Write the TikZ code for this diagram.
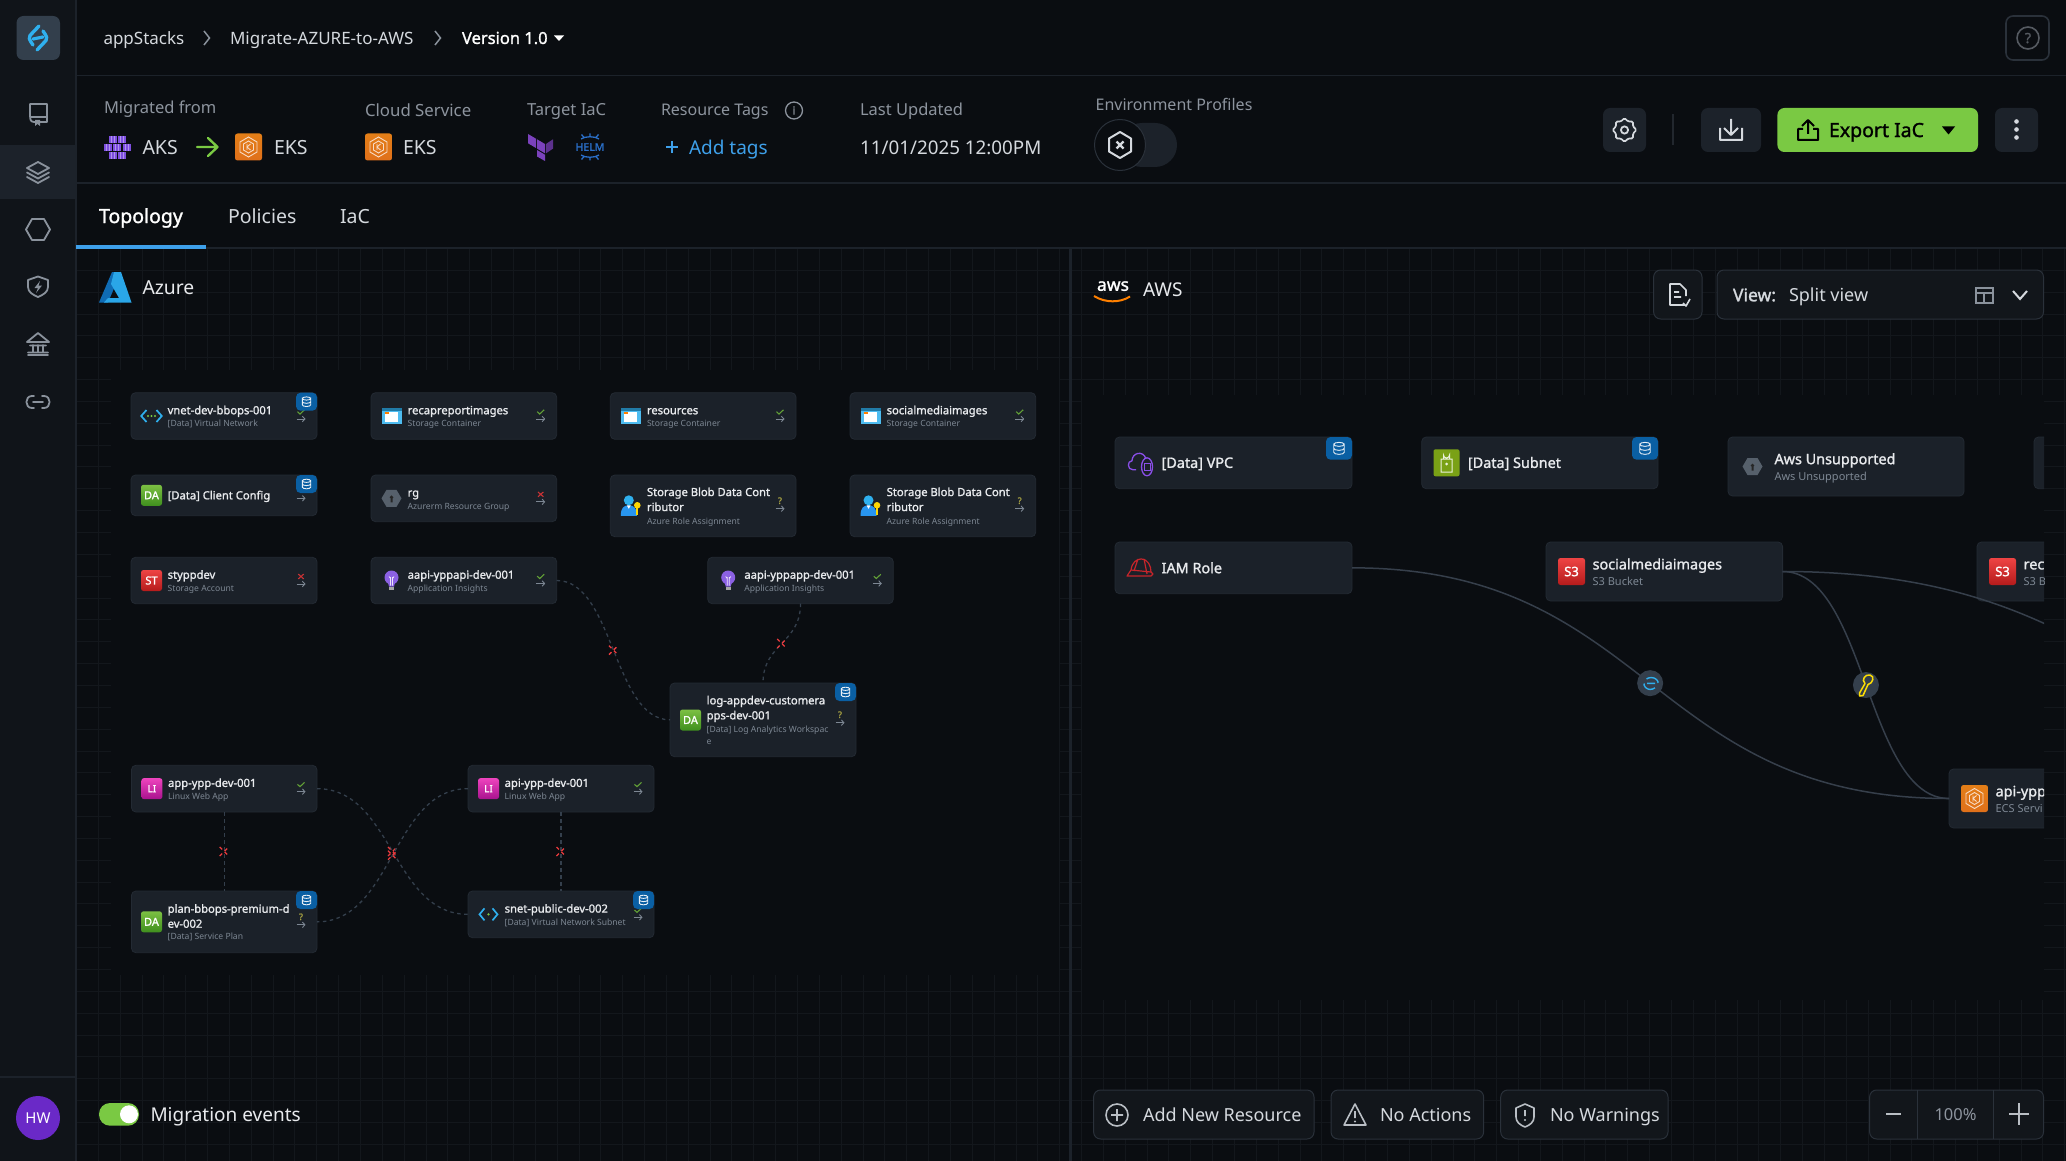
\documentclass[tikz,border=0pt]{standalone}
\usepackage{fontspec}
\setmainfont{Noto Sans}
\newfontfamily\sbf[FakeBold=1.4]{Noto Sans}
\usetikzlibrary{arrows.meta,shapes.misc,shapes.geometric}
\definecolor{bg}{HTML}{0A0D11}
\definecolor{gridc}{HTML}{13171C}
\definecolor{side}{HTML}{101419}
\definecolor{band}{HTML}{1C222A}
\definecolor{rule}{HTML}{1C222A}
\definecolor{cardc}{HTML}{1B2129}
\definecolor{cardb}{HTML}{232A33}
\definecolor{btn}{HTML}{12161B}
\definecolor{btnb}{HTML}{2A313A}
\definecolor{titlec}{HTML}{E8EAED}
\definecolor{subc}{HTML}{7D8793}
\definecolor{labelc}{HTML}{8D949E}
\definecolor{valc}{HTML}{D5D9DE}
\definecolor{iconc}{HTML}{8A929C}
\definecolor{greenc}{HTML}{7AC943}
\definecolor{bluec}{HTML}{3EA0EA}
\definecolor{badge}{HTML}{0A5FA3}
\definecolor{edgec}{HTML}{343F4C}
\definecolor{solidc}{HTML}{363F4B}
\definecolor{redx}{HTML}{EC3B3E}
\definecolor{cyanc}{HTML}{2FB0EE}
\definecolor{orangec}{HTML}{E0701A}
\definecolor{purplec}{HTML}{7B42BC}
\definecolor{aks}{HTML}{7E4FE0}
\definecolor{LogoBg}{HTML}{333F4C}
\definecolor{AvatarC}{HTML}{6A29C7}
\definecolor{HelmC}{HTML}{2A6FC9}
\definecolor{AzureA}{HTML}{0F6CB5}
\definecolor{AzureB}{HTML}{2AA6E8}
\definecolor{VpcC}{HTML}{8A4FE8}
\definecolor{SubC}{HTML}{7AA116}
\definecolor{IamC}{HTML}{C7252B}
\definecolor{HexC}{HTML}{56606B}
\tikzset{
  txt/.style={inner sep=0pt,outer sep=0pt},
  cardbox/.style={draw=cardb,fill=cardc,rounded corners=4.5pt,line width=.8pt,inner sep=0pt,outer sep=0pt},
  btnbox/.style={draw=btnb,fill=btn,rounded corners=7pt,line width=1pt},
  dashedge/.style={draw=edgec,line width=1.3pt,dash pattern=on 3.5pt off 3.5pt},
  solidedge/.style={draw=solidc,line width=1.5pt},
  xmark/.style={cross out,draw=redx,line width=1.3pt,minimum size=9pt,inner sep=0pt,outer sep=0pt},
  ic/.style={draw=iconc,line width=1.8pt,line join=round,line cap=round},
  stt/.style={line width=1.1pt},
  grarrow/.style={draw=subc,line width=.9pt,-{Straight Barb[length=2.5pt,width=5.5pt]}},
  edgecirc/.style={circle,fill=edgec,minimum size=26pt,inner sep=0pt,outer sep=0pt},
}
% text helpers
\newcommand\lbl[7]{\node[txt,text=#5,font=\fontsize{#4}{#4}\selectfont#6,anchor=base west] (#1) at ({#2},{#3+0.36*#4}) {#7};}
\newcommand\lblc[7]{\node[txt,text=#5,font=\fontsize{#4}{#4}\selectfont#6,anchor=base] (#1) at ({#2},{#3+0.36*#4}) {#7};}
\newcommand\card[5]{\pgfmathsetmacro\mycw{#4-#2}\pgfmathsetmacro\mych{#5-#3}\pgfmathsetmacro\mycx{(#2+#4)/2}\pgfmathsetmacro\mycy{(#3+#5)/2}\node[cardbox,minimum width=\mycw pt,minimum height=\mych pt] (#1) at (\mycx,\mycy) {};}
% status marks
\newcommand\myarr[2]{\draw[grarrow] ({#1-4.5},{#2}) -- ({#1+4.5},{#2});}
\newcommand\stok[3]{\draw[draw=greenc!80!black,stt] ({#2-3.5},{#3-.3}) -- ({#2-1},{#3+2}) -- ({#2+3.5},{#3-2.2});\myarr{#2}{#3+7}}
\newcommand\stno[3]{\draw[draw=redx!85!black,stt] ({#2-2.7},{#3-2.4}) -- ({#2+2.7},{#3+2.4}) ({#2-2.7},{#3+2.4}) -- ({#2+2.7},{#3-2.4});\myarr{#2}{#3+7.5}}
\newcommand\stq[3]{\lblc{#1-q}{#2}{#3-1}{9}{yellow!60!black}{\sbf}{?}\myarr{#2}{#3+7}}
% icons
\newcommand\sqicon[8]{% name cx cy size top bottom label fs
  \definecolor{sqtop}{HTML}{#5}\definecolor{sqbot}{HTML}{#6}%
  \node[txt,rounded corners=2.5pt,top color=sqtop,bottom color=sqbot,minimum size=#4pt,text=white,font=\fontsize{#8}{#8}\selectfont\sbf] (#1) at ({#2},{#3}) {#7};}
\newcommand\icda[3]{\sqicon{#1}{#2}{#3}{21}{7CC043}{3F8F1E}{DA}{11}}
\newcommand\icst[3]{\sqicon{#1}{#2}{#3}{21}{EE4444}{B51B1B}{ST}{11}}
\newcommand\icli[3]{\sqicon{#1}{#2}{#3}{21}{EE44BE}{A8128E}{LI}{10}}
\newcommand\ics[3]{\sqicon{#1}{#2}{#3}{27}{EE4444}{B51B1B}{S3}{13}}
\newcommand\icnet[3]{\begin{scope}[shift={(#2,#3)}]
  \draw[cyanc,line width=1.7pt] (-5,-6) -- (-10.3,0) -- (-5,6) (5,-6) -- (10.3,0) -- (5,6);
  \fill[greenc] (-3.5,0) circle (1.1) (0,0) circle (1.1) (3.5,0) circle (1.1);\end{scope}}
\newcommand\icsnet[3]{\begin{scope}[shift={(#2,#3)}]
  \draw[cyanc,line width=1.7pt] (-4,-6) -- (-9,0) -- (-4,6) (4,-6) -- (9,0) -- (4,6);
  \fill[greenc] (0,0) circle (1.3);\end{scope}}
\newcommand\icstor[3]{\begin{scope}[shift={(#2,#3)}]
  \fill[cyanc!85!white] (-10,-8) rectangle (10,8);
  \fill[cyanc!70!black] (-10,-8) rectangle (10,-5.5);
  \fill[white] (-7,-4) rectangle (6,6);
  \fill[orange] (-7,-4) rectangle (-3,-2.5);\end{scope}}
\newcommand\icbulb[3]{\begin{scope}[shift={(#2,#3)}]
  \fill[aks!90!white] (0,-3) circle (7);
  \fill[aks!90!white] (-3.6,2) -- (3.6,2) -- (2.5,6) -- (-2.5,6) -- cycle;
  \fill[gray!70] (-2.5,6.3) rectangle (2.5,9.5);
  \draw[white!85!aks,line width=.8pt] (-2.5,-4) -- (-1,-2) (2.5,-4) -- (1,-2) (-1,-3.5) -- (-1,5) (1,-3.5) -- (1,5);\end{scope}}
\newcommand\icrg[3]{\begin{scope}[shift={(#2,#3)}]
  \fill[HexC] (-10,0) -- (-5,-8.5) -- (5,-8.5) -- (10,0) -- (5,8.5) -- (-5,8.5) -- cycle;
  \fill[black!85] (0,-1) circle (1.9) (-1,0) -- (1,0) -- (1,4) -- (-1,4) -- cycle;\end{scope}}
\newcommand\icuser[3]{\begin{scope}[shift={(#2,#3)}]
  \fill[cyanc] (-2,-5.5) circle (5);
  \fill[cyanc!85!blue] (-10,10) .. controls (-10,2) and (-7,-.5) .. (-2,-.5) .. controls (3,-.5) and (6,2) .. (6,10) -- cycle;
  \fill[white] (-4,-.5) -- (0,-.5) -- (-2,3) -- cycle;
  \fill[yellow!75!orange] (6.5,-.5) circle (3.3);
  \fill[yellow!75!orange] (5.4,1) rectangle (7.6,9.5);\end{scope}}
\newcommand\dbbadge[5]{% x2 y1 w h scale
  \fill[badge,rounded corners=4.5pt] ({#1-#3},{#2}) rectangle ({#1},{#2+#4});
  \begin{scope}[shift={({#1-#3/2},{#2+#4/2})}]
  \draw[white!90!badge,line width=.9pt,scale=#5] (-4.2,-3.2) -- (-4.2,3.2) arc (180:0:4.2 and 1.6) -- (4.2,-3.2) arc (0:180:4.2 and 1.6) -- cycle (-4.2,-3.2) arc (180:360:4.2 and 1.6) (-4.2,0) arc (180:0:4.2 and 1.6);
  \end{scope}}
% Azure single-title card: name x1 y1 x2 y2 icon status title sub
\newcommand\az[9]{\card{#1}{#2}{#3}{#4}{#5}%
  \pgfmathsetmacro\myc{(#3+#5)/2}%
  #6{#1-i}{#2+20.5}{\myc}%
  #7{#1}{#4-16}{\myc-4}%
  \lbl{#1-t}{#2+36.7}{\myc-5.8}{11.2}{titlec}{\sbf}{#8}%
  \lbl{#1-s}{#2+36.7}{\myc+7.8}{8.6}{subc}{}{#9}}
% AWS single-title card
\newcommand\awsc[8]{\card{#1}{#2}{#3}{#4}{#5}%
  \pgfmathsetmacro\myc{(#3+#5)/2}%
  #6{#1-i}{#2+25.5}{\myc}%
  \lbl{#1-t}{#2+46.6}{\myc-7.3}{14.4}{titlec}{\sbf}{#7}%
  \lbl{#1-s}{#2+46.6}{\myc+9.8}{11}{subc}{}{#8}}
\newcommand\eksicon[3]{\begin{scope}[shift={(#2,#3)}]
  \node[txt,rounded corners=2.5pt,top color=orangec!90!yellow,bottom color=orangec,minimum size=27pt] (#1) at (0,0) {};
  \draw[white!75!orangec,line width=.9pt] (0,-10) -- (8.5,-5) -- (8.5,5) -- (0,10) -- (-8.5,5) -- (-8.5,-5) -- cycle;
  \draw[white!75!orangec,line width=.9pt] (0,-6) -- (5,-3) -- (5,3) -- (0,6) -- (-5,3) -- (-5,-3) -- cycle;
  \draw[white!75!orangec,line width=.9pt] (-1.5,-3) -- (-1.5,3) (2,-3) -- (-1.5,0) -- (2,3);\end{scope}}
\begin{document}
\begin{tikzpicture}[x=1pt,y=-1pt]
\useasboundingbox (0,0) rectangle (2066,1161);
\fill[bg] (0,0) rectangle (2066,1161);
% grid
\foreach \k in {0,...,91} \draw[gridc,line width=1pt] ({76.45+\k*21.85},248) -- ({76.45+\k*21.85},1161);
\foreach \k in {0,...,41} \draw[gridc,line width=1pt] (76,{248.45+\k*21.85}) -- (2066,{248.45+\k*21.85});
\fill[bg] (111,370) rectangle (1059,975);
\fill[bg] (1082,395) rectangle (2044,1000);
% chrome
\fill[side] (0,0) rectangle (76,1161);
\fill[band] (0,145) rectangle (75,199.3);
\draw[rule,line width=1.5pt] (76,0) -- (76,1161);
\draw[rule,line width=1.5pt] (0,1077) -- (76,1077);
\draw[rule,line width=1.5pt] (76,75.5) -- (2066,75.5);
\draw[rule,line width=1.5pt] (76,183) -- (2066,183);
\draw[rule,line width=1.5pt] (76,248) -- (2066,248);
\draw[rule,line width=3pt] (1070,248) -- (1070,1161);
\fill[bluec] (76,244.5) rectangle (206,248.8);
% logo
\fill[LogoBg,rounded corners=7pt] (16.5,16) rectangle (60,60);
\draw[cyanc,line width=3.4pt,line cap=round,line join=round] (39,26) -- (30,35.5) .. controls (29,38) and (29,40) .. (31,42) -- (33,45);
\draw[cyanc,line width=3.4pt,line cap=round,line join=round] (37,50) -- (46,40.5) .. controls (47,38) and (47,36) .. (45,34) -- (43,31);
\draw[cyanc,line width=3.2pt,line cap=round] (33,39) -- (43,37);
% sidebar icons
\draw[ic] (47,122) -- (34,122) .. controls (30,122) and (30,118) .. (30,116) -- (30,104) -- (47,104) -- (47,122) (30,117) -- (47,117);
\fill[iconc] (35,120) -- (40,120) -- (40,126) -- (37.5,124) -- (35,126) -- cycle;
\draw[ic] (38,162) -- (49,168) -- (38,174) -- (27,168) -- cycle (27,172.5) -- (38,178.5) -- (49,172.5) (27,177) -- (38,183) -- (49,177);
\draw[ic] (26,229.5) -- (32,219) -- (44,219) -- (50,229.5) -- (44,240) -- (32,240) -- cycle;
\draw[ic] (38,276.5) -- (48,280) -- (48,287) .. controls (48,292) and (43,295) .. (38,297) .. controls (33,295) and (28,292) .. (28,287) -- (28,280) -- cycle;
\fill[iconc] (40,281) -- (34.5,288) -- (38,288) -- (36,293) -- (42,285.5) -- (38.5,285.5) -- cycle;
\draw[ic] (27,342) -- (38,333) -- (49,342) -- cycle (30,345.5) -- (46,345.5) (33,345) -- (33,351.5) (38,345) -- (38,351.5) (43,345) -- (43,351.5) (28,352.5) -- (48,352.5) (28,355) -- (48,355);
\draw[ic] (34,396) -- (32,396) .. controls (24.5,396) and (24.5,408) .. (32,408) -- (34,408) (42,396) -- (44,396) .. controls (51.5,396) and (51.5,408) .. (44,408) -- (42,408) (33,402) -- (43,402);
\fill[AvatarC] (38,1118) circle (22);
\lblc{hw}{38}{1118}{15}{white}{}{HW}
% breadcrumb
\lbl{bc1}{103.5}{38}{17}{valc}{}{appStacks}
\draw[iconc,line width=1.5pt] (204,31) -- (209.5,38) -- (204,45);
\lbl{bc2}{230}{38}{17}{valc}{}{Migrate-AZURE-to-AWS}
\draw[iconc,line width=1.5pt] (435,31) -- (440.5,38) -- (435,45);
\lbl{bc3}{462}{38}{16.5}{white}{\sbf}{Version 1.0}
\fill[white] (554,35.5) -- (564,35.5) -- (559,41) -- cycle;
% help
\draw[btnb,rounded corners=7pt,line width=1.6pt] (2006,16) rectangle (2049,60);
\draw[btnb!80!white,line width=1.6pt] (2028,38) circle (11);
\lblc{helpq}{2028}{38}{14}{btnb!80!white}{\sbf}{?}
% info row
\lbl{mf}{104}{108}{16.5}{labelc}{}{Migrated from}
\lbl{cs}{365}{110}{16.8}{labelc}{}{Cloud Service}
\lbl{ti}{527}{110}{16.6}{labelc}{}{Target IaC}
\lbl{rt}{661}{110}{16}{labelc}{}{Resource Tags}
\draw[labelc,line width=1.3pt] (794,110.5) circle (8.5);
\lblc{rti}{794}{110.5}{11}{labelc}{\sbf}{i}
\lbl{lu}{860}{110}{16.5}{labelc}{}{Last Updated}
\lbl{ep}{1095.6}{105}{16}{labelc}{}{Environment Profiles}
% AKS icon
\foreach \cx/\cy in {112.7/139.3,121.7/139.3,108/147.3,117/147.3,126.5/147.3,112.7/155.3,121.7/155.3}{
  \fill[aks] ({\cx-4},{\cy-3.4}) rectangle ({\cx+4},{\cy+3.4});
  \draw[aks!60!white,line width=.6pt] ({\cx-1.3},{\cy-3.4}) -- ({\cx-1.3},{\cy+3.4}) ({\cx+1.3},{\cy-3.4}) -- ({\cx+1.3},{\cy+3.4});}
\lbl{aksl}{142.5}{147.5}{19.5}{valc}{}{AKS}
\draw[greenc,line width=2.4pt,line cap=round,line join=round] (197,147) -- (217,147) (208,138) -- (217.5,147) -- (208,156);
\eksicon{eks1}{248.5}{147}
\lbl{eksl1}{274}{147.5}{19.5}{valc}{}{EKS}
\eksicon{eks2}{378.5}{147}
\lbl{eksl2}{403}{147.5}{19.5}{valc}{}{EKS}
% terraform
\fill[purplec] (528,134) -- (536,138.7) -- (536,148) -- (528,143.3) -- cycle;
\fill[purplec] (537,139.3) -- (545,144) -- (545,153.3) -- (537,148.6) -- cycle;
\fill[purplec!75!black] (546,144) -- (553,139.3) -- (553,148.6) -- (546,153.3) -- cycle;
\fill[purplec] (537,150) -- (545,154.7) -- (545,161) -- (537,156.5) -- cycle;
% helm
\lblc{helm}{590}{147}{10.5}{HelmC}{\sbf}{HELM}
\draw[HelmC,line width=1.3pt] (581,139) .. controls (585,136) and (595,136) .. (599,139) (581,155) .. controls (585,158) and (595,158) .. (599,155) (590,137) -- (590,133.5) (584,137.5) -- (581.5,134.5) (596,137.5) -- (598.5,134.5) (590,157) -- (590,160.5) (584,156.5) -- (581.5,159.5) (596,156.5) -- (598.5,159.5);
% tags
\draw[bluec,line width=1.5pt] (672,141) -- (672,153) (666,147) -- (678,147);
\lbl{tags}{689}{147.5}{19}{bluec}{}{Add tags}
\lbl{date}{860}{147.5}{18.8}{valc}{}{11/01/2025 12:00PM}
% env toggle
\fill[band,rounded corners=22pt] (1120,123) rectangle (1177,167);
\fill[bg] (1120,145) circle (25.5);
\draw[btnb,line width=1pt] (1120,145) circle (25.5);
\draw[valc,line width=2pt,line join=round] (1120,132) -- (1131,138.5) -- (1131,151.5) -- (1120,158) -- (1109,151.5) -- (1109,138.5) -- cycle;
\draw[valc,line width=2.2pt] (1116.5,141.5) -- (1123.5,148.5) (1116.5,148.5) -- (1123.5,141.5);
% top right buttons
\fill[band,rounded corners=7pt] (1603,108) rectangle (1646,152);
\draw[valc,line width=1.7pt,rounded corners=1.3pt,shift={(1624.5,130)}] (90:12) -- (112:9.2) -- (135:12) -- (157:9.2) -- (180:12) -- (202:9.2) -- (225:12) -- (247:9.2) -- (270:12) -- (292:9.2) -- (315:12) -- (337:9.2) -- (0:12) -- (22:9.2) -- (45:12) -- (67:9.2) -- cycle;
\draw[valc,line width=1.8pt] (1624.5,130) circle (3.6);
\draw[btnb!80!black,line width=2pt] (1673,114) -- (1673,145);
\fill[band,rounded corners=7pt] (1701,108) rectangle (1761,152);
\draw[valc,line width=2pt,line join=round] (1731,119) -- (1731,134) (1724,128) -- (1731,135) -- (1738,128) (1720,128) -- (1720,140) -- (1742,140) -- (1742,128);
\fill[greenc,rounded corners=7pt] (1777.4,108) rectangle (1978,152);
\draw[black,line width=2pt,line join=round] (1808,121) -- (1808,134) (1802,126) -- (1808,120) -- (1814,126) (1803,129) -- (1798,129) -- (1798,140) -- (1818,140) -- (1818,129) -- (1813,129);
\lbl{export}{1829}{130}{19.5}{black}{\sbf}{Export IaC}
\fill[black] (1942,126.5) -- (1955,126.5) -- (1948.5,134.5) -- cycle;
\fill[band,rounded corners=7pt] (1995,108) rectangle (2038,152);
\fill[valc] (2016.5,121.5) circle (2.3) (2016.5,129.5) circle (2.3) (2016.5,137.5) circle (2.3);
% tabs
\lbl{tab1}{99}{216}{19.5}{white}{\sbf}{Topology}
\lbl{tab2}{228}{216}{19.5}{valc}{}{Policies}
\lbl{tab3}{340}{216}{19.5}{valc}{}{IaC}
% azure logo
\fill[AzureA] (99,302.5) -- (112,272) -- (121,272) -- (108,302.5) -- cycle;
\fill[AzureB] (121,272) -- (131.5,302.5) -- (104,302.5) -- (108,298) -- (119,298) -- (111,284) -- (114,272) -- cycle;
\lbl{azure}{142.5}{287.5}{19.3}{titlec}{}{Azure}
% aws header
\lblc{awsl}{1113}{284.5}{17.5}{white}{\sbf}{aws}
\draw[orange,line width=2pt] (1094,296) .. controls (1105,303) and (1120,303) .. (1130,296.5);
\lbl{awst}{1143}{289.5}{19}{titlec}{}{AWS}
\draw[btnbox] (1653.6,270) rectangle (1702,319);
\draw[valc,line width=1.6pt,line join=round] (1685,305) -- (1670,305) -- (1670,284) -- (1680,284) -- (1686,290) -- (1686,296) (1674,292) -- (1679,292) (1674,297) -- (1681,297) (1683,303) -- (1686,306) -- (1690,299);
\draw[btnbox] (1717,270) rectangle (2043.5,319);
\lbl{view}{1733}{295}{17.5}{valc}{\sbf}{View:}
\lbl{viewv}{1789}{295}{18}{valc}{}{Split view}
\draw[iconc,line width=1.5pt] (1976,288) rectangle (1993,303) (1976,293) -- (1993,293) (1984,293) -- (1984,303);
\draw[valc,line width=2pt] (2013,291) -- (2020,299) -- (2027,291);
% bottom left
\fill[greenc,rounded corners=11pt] (99,1103) rectangle (139,1125.7);
\fill[white] (129,1114.3) circle (9);
\lbl{me}{150.5}{1115}{19}{titlec}{}{Migration events}
% bottom buttons
\draw[btnbox] (1093.6,1090) rectangle (1314,1139);
\draw[iconc!60!white,line width=1.6pt] (1117,1115) circle (11) (1117,1109) -- (1117,1121) (1111,1115) -- (1123,1115);
\lbl{anr}{1143}{1115}{18}{valc}{}{Add New Resource}
\draw[btnbox] (1331,1090) rectangle (1483.6,1139);
\draw[iconc!60!white,line width=1.6pt,line join=round] (1355,1104) -- (1366,1125) -- (1344,1125) -- cycle (1355,1111) -- (1355,1118);
\fill[iconc!60!white] (1355,1121.5) circle (1.1);
\lbl{nac}{1380}{1115}{18}{valc}{}{No Actions}
\draw[btnbox] (1500.7,1090) rectangle (1668,1139);
\draw[iconc!60!white,line width=1.6pt,line join=round] (1525,1104) -- (1534,1108) -- (1534,1117) .. controls (1534,1122) and (1530,1125) .. (1525,1127) .. controls (1520,1125) and (1516,1122) .. (1516,1117) -- (1516,1108) -- cycle (1525,1110) -- (1525,1116);
\fill[iconc!60!white] (1525,1120) circle (1.1);
\lbl{nwa}{1550}{1115}{18}{valc}{}{No Warnings}
\draw[btnbox] (1869.6,1090) rectangle (2043.5,1139);
\draw[btnb,line width=1pt] (1917.7,1090) -- (1917.7,1139) (1993.5,1090) -- (1993.5,1139);
\draw[iconc!60!white,line width=2.2pt] (1886,1114) -- (1901,1114) (2009,1114) -- (2029,1114) (2019,1103) -- (2019,1125);
\lblc{pct}{1955.5}{1115}{16.5}{labelc}{}{100\%}
% ------------- Azure cards
\az{vnet}{131}{392.7}{317}{439.3}{\icnet}{\stok}{vnet-dev-bbops-001}{[Data] Virtual Network}
\dbbadge{317}{392.7}{21}{18}{1}
\card{clientcfg}{131}{475}{317}{515.7}
\icda{clientcfg-i}{151.5}{495.3}
\myarr{301}{498.3}
\lbl{clientcfg-t}{167.7}{495.3}{11.2}{titlec}{\sbf}{[Data] Client Config}
\dbbadge{317}{475}{21}{18}{1}
\az{styppdev}{131}{557.3}{317}{603.7}{\icst}{\stno}{styppdev}{Storage Account}
\az{recap}{371}{392.7}{556.7}{439.3}{\icstor}{\stok}{recapreportimages}{Storage Container}
\az{rg}{371}{475}{556.7}{521.7}{\icrg}{\stno}{rg}{Azurerm Resource Group}
\az{aapiapi}{371}{557.3}{556.7}{603.7}{\icbulb}{\stok}{aapi-yppapi-dev-001}{Application Insights}
\az{resources}{610.3}{392.7}{796}{439.3}{\icstor}{\stok}{resources}{Storage Container}
\az{socialaz}{850}{392.7}{1035.7}{439.3}{\icstor}{\stok}{socialmediaimages}{Storage Container}
\card{sblob1}{610.3}{475}{796}{536.7}
\icuser{sblob1-i}{630.8}{505.8}
\lbl{sblob1-a}{647}{492}{11.2}{titlec}{\sbf}{Storage Blob Data Cont}
\lbl{sblob1-b}{647}{507}{11.2}{titlec}{\sbf}{ributor}
\lbl{sblob1-s}{647}{521}{8.6}{subc}{}{Azure Role Assignment}
\stq{sblob1}{780}{501.7}
\card{sblob2}{850}{475}{1035.7}{536.7}
\icuser{sblob2-i}{870.5}{505.8}
\lbl{sblob2-a}{886.7}{492}{11.2}{titlec}{\sbf}{Storage Blob Data Cont}
\lbl{sblob2-b}{886.7}{507}{11.2}{titlec}{\sbf}{ributor}
\lbl{sblob2-s}{886.7}{521}{8.6}{subc}{}{Azure Role Assignment}
\stq{sblob2}{1019.7}{501.7}
\az{aapiapp}{707.7}{557.3}{893.3}{603.7}{\icbulb}{\stok}{aapi-yppapp-dev-001}{Application Insights}
\card{logapp}{670}{683}{856}{756.7}
\icda{logapp-i}{690.5}{720}
\lbl{logapp-a}{706.7}{700.3}{11.2}{titlec}{\sbf}{log-appdev-customera}
\lbl{logapp-b}{706.7}{715.3}{11.2}{titlec}{\sbf}{pps-dev-001}
\lbl{logapp-s}{706.7}{729}{8.6}{subc}{}{[Data] Log Analytics Workspac}
\lbl{logapp-u}{706.7}{741}{8.6}{subc}{}{e}
\stq{logapp}{840}{715.7}
\dbbadge{856}{683}{21}{18}{1}
\az{appypp}{131.4}{765.3}{317}{812}{\icli}{\stok}{app-ypp-dev-001}{Linux Web App}
\az{apiypp}{468}{765.3}{654}{812}{\icli}{\stok}{api-ypp-dev-001}{Linux Web App}
\card{plan}{131.4}{891}{317}{952.7}
\icda{plan-i}{151.5}{921.8}
\lbl{plan-a}{167.7}{908.7}{11.2}{titlec}{\sbf}{plan-bbops-premium-d}
\lbl{plan-b}{167.7}{923.7}{11.2}{titlec}{\sbf}{ev-002}
\lbl{plan-s}{167.7}{936.7}{8.6}{subc}{}{[Data] Service Plan}
\stq{plan}{301}{917.8}
\dbbadge{317}{891}{21}{18}{1}
\az{snet}{468}{891}{654}{937.7}{\icsnet}{\stok}{snet-public-dev-002}{[Data] Virtual Network Subnet}
\dbbadge{654}{891}{21}{18}{1}
% Azure connectors
\draw[dashedge] (aapiapi.east) .. controls (613.5,580.5) and (613.5,719.8) .. (logapp.west) node[pos=.5,xmark] (x1) {};
\draw[dashedge] (aapiapp.south) .. controls (800.5,643.5) and (763,643.5) .. (logapp.north) node[pos=.5,xmark] (x2) {};
\draw[dashedge] (appypp.east) .. controls (392.5,788.6) and (392.5,914.3) .. (snet.west) node[pos=.5,xmark] (x3) {};
\draw[dashedge] (apiypp.west) .. controls (392.5,788.6) and (392.5,921.8) .. (plan.east) node[pos=.5,xmark] (x4) {};
\draw[dashedge] (appypp.south) -- (plan.north) node[pos=.5,xmark] (x5) {};
\draw[dashedge] (apiypp.south) -- (snet.north) node[pos=.5,xmark] (x6) {};
% ------------- AWS cards
\begin{scope}
\clip (1072,250) rectangle (2044,1000);
% VPC
\card{vpc}{1115}{437}{1352}{488.7}
\begin{scope}[shift={(1141,462.8)}]
\draw[VpcC,line width=1.3pt,line join=round] (-5,7) -- (-8,7) .. controls (-14,7) and (-14,-2) .. (-9,-2) .. controls (-9,-10) and (2,-13) .. (5,-4);
\draw[VpcC,line width=1.3pt] (6,4) ellipse (5.5 and 9);
\draw[VpcC,line width=1pt] (3,1) rectangle (9,8);
\end{scope}
\node[txt,minimum size=1pt] (vpc-i) at (1141,462.8) {};
\lbl{vpc-t}{1161.6}{462.7}{14.4}{titlec}{\sbf}{[Data] VPC}
\dbbadge{1352}{437}{26}{22.7}{1.25}
% Subnet
\card{subnet}{1421.7}{437}{1658}{488.7}
\node[txt,fill=SubC,rounded corners=2pt,minimum width=26pt,minimum height=27pt] (subnet-i) at (1446.5,462.8) {};
\draw[white!85!SubC,line width=1pt] (1441,459) rectangle (1452,472) (1443.5,459) -- (1443.5,455) arc (180:0:3) -- (1449.5,459);
\fill[white!85!SubC] (1446.5,464) circle (1.5);
\lbl{subnet-t}{1468}{462.7}{14.4}{titlec}{\sbf}{[Data] Subnet}
\dbbadge{1658}{437}{26}{22.7}{1.25}
% Unsupported
\card{unsup}{1728}{437}{1964}{496}
\icrg{unsup-i}{1752.5}{466.5}
\lbl{unsup-t}{1774.5}{459}{14.4}{titlec}{\sbf}{Aws Unsupported}
\lbl{unsup-s}{1774.5}{476.7}{11}{subc}{}{Aws Unsupported}
\card{clip1}{2034}{437}{2270}{488.7}
% IAM
\card{iam}{1115}{542}{1352}{593.7}
\begin{scope}[shift={(1141,568)}]
\draw[IamC,line width=1.2pt,line join=round] (-10,2) .. controls (-9,-6) and (-4,-9) .. (0,-9) .. controls (7,-9) and (10,-2) .. (10,4) -- (12,6) -- (10,8) -- (-14,8) -- (-10,2) (-3,-9) -- (-7,3) (3,-9) -- (6,6) (-10,2) -- (10,4);
\end{scope}
\node[txt,minimum size=1pt] (iam-i) at (1141,568) {};
\lbl{iam-t}{1161.6}{568}{14.4}{titlec}{\sbf}{IAM Role}
% S3
\awsc{social}{1546}{542}{1782.6}{601}{\ics}{socialmediaimages}{S3 Bucket}
\awsc{recb}{1977}{542}{2213}{601}{\ics}{rec}{S3 B}
% ECS
\awsc{ecs}{1949}{769}{2185}{828}{\eksicon}{api-ypp}{ECS Servi}
\coordinate (offr) at (2500,780);
\draw[solidedge] (iam.east) .. controls (1650,567.8) and (1650,798.5) .. (ecs.west) node[pos=.5,edgecirc] (linkc) {};
\draw[solidedge] (social.east) .. controls (1866,571.5) and (1866,798.5) .. (ecs.west) node[pos=.5,edgecirc] (keyc) {};
\draw[solidedge] (social.east) .. controls (2142,571.5) and (2142,780) .. (offr);
\end{scope}
% link icon
\draw[cyanc,line width=1.4pt] (1646.5,679) .. controls (1649,677) and (1654,677) .. (1656.5,679.5) .. controls (1658,681) and (1658,682) .. (1658,683) (1655,687.8) .. controls (1652,690) and (1648,690) .. (1645.5,687.5) .. controls (1644,686) and (1644,684.5) .. (1644,683.5) (1647,683.4) -- (1655,683.4);
% key icon
\draw[yellow!80!orange,line width=1.5pt,line join=round] (1859.5,693) -- (1859.5,696) -- (1863,695.5) -- (1868,684.5) .. controls (1873,683.5) and (1875,676) .. (1870,675) .. controls (1865,674) and (1861,680) .. (1865,683.5) -- cycle;
\end{tikzpicture}
\end{document}
